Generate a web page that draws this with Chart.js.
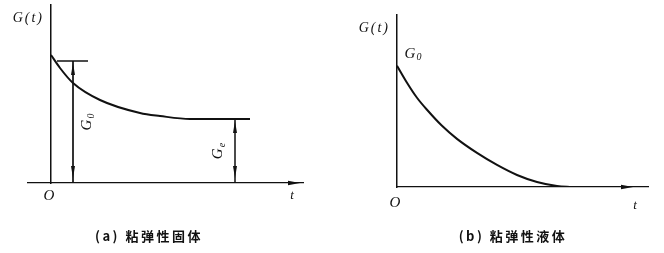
<!DOCTYPE html>
<html><head><meta charset="utf-8">
<script src="https://cdn.jsdelivr.net/npm/chart.js@4"></script>
<style>
html,body{margin:0;padding:0;background:#fff;overflow:hidden}
#wrap{position:relative;width:664px;height:253px;background:#fff}
.box{position:absolute;top:0;height:253px}
</style></head><body>
<div id="wrap">
<div class="box" style="left:0;width:330px"><canvas id="ca" width="330" height="253"></canvas></div>
<div class="box" style="left:330px;width:334px"><canvas id="cb" width="334" height="253"></canvas></div>
</div>
<script>
// ---- data: (a) viscoelastic solid ----
const solidT = [0, 9, 22, 49, 89, 109, 139, 184, 199];
const solidG = [128, 115, 100, 83, 70, 67, 64, 64, 64];
const solidG0Level = 122;          // G0 dimension line level
const solidG0T = 22;               // G0 dimension line position
const solidG0Tick = [6, 37];       // G0 horizontal tick extent
const solidGe = 64;                // equilibrium modulus
const solidGeT = 184;              // Ge dimension line position
// ---- data: (b) viscoelastic liquid ----
const liquidT = [0, 10, 20, 30, 45, 60, 80, 100, 120, 140, 160, 175];
const liquidG = [121, 104, 89, 77, 61, 48, 34, 22, 12, 5, 1, 0];
// ---- text ----
const captionA = "(a) 粘弹性固体";
const captionB = "(b) 粘弹性液体";
const yLabel = "G(t)";
const xLabel = "t";
const originLabel = "O";

const BLACK = '#111';

function toXY(xs, ys){ return xs.map((v,i)=>({x:v, y:ys[i]})); }

function drawSub(ctx, main, sub, x, y, rot){
  ctx.save();
  ctx.translate(x, y);
  ctx.rotate(rot);
  ctx.font = 'italic 15px "Liberation Serif"';
  const w1 = ctx.measureText(main).width;
  ctx.font = 'italic 10px "Liberation Serif"';
  const w2 = ctx.measureText(sub).width;
  const tot = w1 + w2 + 1;
  ctx.textBaseline = 'middle';
  ctx.textAlign = 'left';
  ctx.font = 'italic 15px "Liberation Serif"';
  ctx.fillText(main, -tot/2, 0);
  ctx.font = 'italic 10px "Liberation Serif"';
  ctx.fillText(sub, -tot/2 + w1 + 1, 4);
  ctx.restore();
}

const decor = {
  id: 'decor',
  afterDatasetsDraw(chart, args, o){
    const {ctx, chartArea:a, scales:{x, y}} = chart;
    const x0 = x.getPixelForValue(0), y0 = y.getPixelForValue(0);
    ctx.save();
    ctx.fillStyle = BLACK;
    // x-axis arrow
    const ax = a.right - o.arrowInset;
    ctx.beginPath();
    ctx.moveTo(ax + 3, y0); ctx.lineTo(ax - 9, y0 - 2.2); ctx.lineTo(ax - 9, y0 + 2.2); ctx.closePath(); ctx.fill();
    // dimension arrows
    (o.dims || []).forEach(d => {
      const px = x.getPixelForValue(d.t), top = y.getPixelForValue(d.g);
      ctx.beginPath();
      ctx.moveTo(px, top + 2); ctx.lineTo(px - 2, top + 14); ctx.lineTo(px + 2, top + 14); ctx.closePath(); ctx.fill();
      ctx.beginPath();
      ctx.moveTo(px, y0 - 5); ctx.lineTo(px - 2, y0 - 17); ctx.lineTo(px + 2, y0 - 17); ctx.closePath(); ctx.fill();
      drawSub(ctx, 'G', d.sub, px + d.dx, (top + y0) / 2, -Math.PI / 2);
    });
    // axis labels
    ctx.font = 'italic 14px "Liberation Serif"';
    ctx.textBaseline = 'middle';
    ctx.letterSpacing = '2px';
    ctx.textAlign = 'right';
    ctx.fillText(yLabel, x0 - 7, a.top + o.yLabelDy);
    ctx.letterSpacing = '0px';
    ctx.textAlign = 'center';
    ctx.font = 'italic 15px "Liberation Serif"';
    ctx.fillText(originLabel, x0 - 2, y0 + o.oDy);
    ctx.font = 'italic 13px "Liberation Serif"';
    ctx.fillText(xLabel, a.right + o.tDx, y0 + o.oDy + o.tExtra);
    if (o.g0Label) drawSub(ctx, 'G', '0', x0 + 16, y.getPixelForValue(o.g0Label), 0);
    // caption
    ctx.font = 'bold 13px "Noto Sans CJK SC"';
    ctx.letterSpacing = '2.5px';
    ctx.textAlign = 'center';
    ctx.fillText(o.caption, o.capX, 236);
    ctx.restore();
  }
};

function opts(xmin, xmax, ymax, pad, d){
  return {
    responsive: false, animation: false, devicePixelRatio: 1,
    layout: {padding: pad},
    plugins: {legend: {display: false}, tooltip: {enabled: false}, decor: d},
    elements: {point: {radius: 0}},
    scales: {
      x: {type: 'linear', min: xmin, max: xmax, ticks: {display: false},
          grid: {display: false, drawTicks: false}, border: {display: true, color: BLACK, width: 1.3}},
      y: {type: 'linear', min: 0, max: ymax, position: {x: 0}, ticks: {display: false},
          grid: {display: false, drawTicks: false}, border: {display: true, color: BLACK, width: 1.5}}
    }
  };
}

const lineDs = (data, w, extra) => Object.assign({data, borderColor: BLACK, borderWidth: w, pointRadius: 0, fill: false}, extra || {});

new Chart(document.getElementById('ca'), {
  type: 'line',
  data: {datasets: [
    lineDs(toXY(solidT, solidG), 2, {cubicInterpolationMode: 'monotone'}),
    lineDs([{x: solidG0Tick[0], y: solidG0Level}, {x: solidG0Tick[1], y: solidG0Level}], 1.5),
    lineDs([{x: solidG0T, y: solidG0Level}, {x: solidG0T, y: 0}], 1.7),
    lineDs([{x: solidGeT, y: solidGe}, {x: solidGeT, y: 0}], 1.5)
  ]},
  options: opts(-23, 252, 178, {left: 28, right: 27, top: 5, bottom: 70}, {
    arrowInset: 6, yLabelDy: 13, oDy: 13, tDx: -11, tExtra: 0,
    dims: [{t: solidG0T, g: solidG0Level, sub: '0', dx: 14}, {t: solidGeT, g: solidGe, sub: 'e', dx: -17}],
    caption: captionA, capX: 149
  }),
  plugins: [decor]
});

new Chart(document.getElementById('cb'), {
  type: 'line',
  data: {datasets: [
    lineDs(toXY(liquidT, liquidG), 2, {cubicInterpolationMode: 'monotone'})
  ]},
  options: opts(0, 251, 171.5, {left: 67, right: 16, top: 15, bottom: 66}, {
    arrowInset: 18, yLabelDy: 13, oDy: 16, tDx: -13, tExtra: 3,
    g0Label: 133,
    caption: captionB, capX: 183
  }),
  plugins: [decor]
});
</script>
</body></html>
